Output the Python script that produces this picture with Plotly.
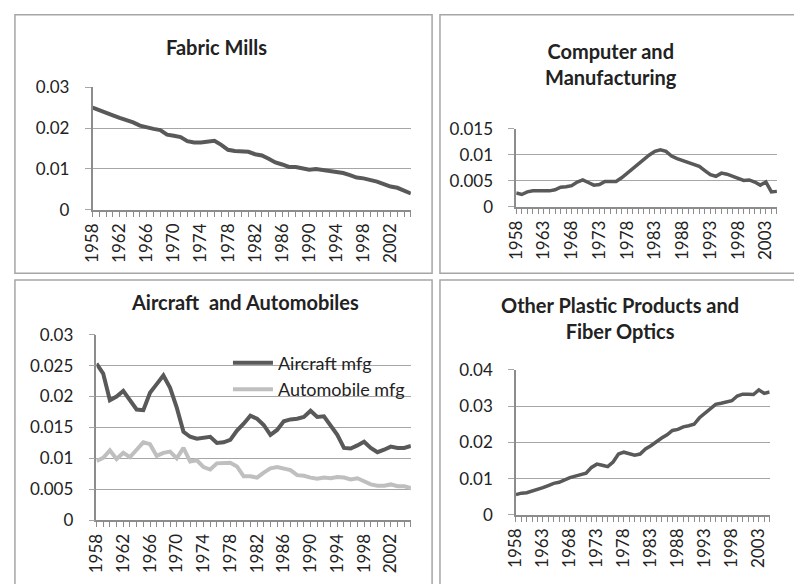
import plotly.graph_objects as go

# years shared by all four panels
years = list(range(1958, 2006))

fabric_mills = [
    0.0250, 0.0243, 0.0236, 0.0231, 0.0225, 0.0220, 0.0214, 0.0206, 0.0201, 0.0198,
    0.0195, 0.0184, 0.0181, 0.0178, 0.0168, 0.0165, 0.0165, 0.0166, 0.0169, 0.0159,
    0.0147, 0.0144, 0.0144, 0.0142, 0.0136, 0.0133, 0.0125, 0.0116, 0.0111, 0.0105,
    0.0105, 0.0102, 0.0098, 0.0100, 0.0098, 0.0096, 0.0093, 0.0090, 0.0085, 0.0079,
    0.0077, 0.0074, 0.0069, 0.0063, 0.0057, 0.0054, 0.0047, 0.0040,
]

computer_mfg = [
    0.0027, 0.0024, 0.0029, 0.0031, 0.0031, 0.0031, 0.0031, 0.0033, 0.0038, 0.0039,
    0.0041, 0.0048, 0.0052, 0.0047, 0.0042, 0.0043, 0.0049, 0.0049, 0.0049, 0.0056,
    0.0065, 0.0074, 0.0081, 0.0090, 0.0100, 0.0107, 0.0110, 0.0107, 0.0098, 0.0093,
    0.0089, 0.0086, 0.0081, 0.0078, 0.0070, 0.0062, 0.0059, 0.0065, 0.0063, 0.0059,
    0.0056, 0.0051, 0.0052, 0.0048, 0.0042, 0.0048, 0.0029, 0.0030,
]

aircraft_mfg = [
    0.0253, 0.0237, 0.0194, 0.0200, 0.0209, 0.0195, 0.0179, 0.0178, 0.0206, 0.0220,
    0.0234, 0.0214, 0.0182, 0.0143, 0.0135, 0.0132, 0.0133, 0.0135, 0.0125, 0.0126,
    0.0130, 0.0145, 0.0156, 0.0169, 0.0164, 0.0154, 0.0138, 0.0146, 0.0160, 0.0163,
    0.0164, 0.0167, 0.0177, 0.0167, 0.0168, 0.0154, 0.0138, 0.0117, 0.0116, 0.0121,
    0.0127, 0.0117, 0.0110, 0.0114, 0.0119, 0.0117, 0.0117, 0.0120,
]

automobile_mfg = [
    0.0096, 0.0101, 0.0113, 0.0099, 0.0109, 0.0102, 0.0114, 0.0126, 0.0123, 0.0104,
    0.0109, 0.0111, 0.0100, 0.0117, 0.0095, 0.0097, 0.0086, 0.0082, 0.0092, 0.0093,
    0.0093, 0.0087, 0.0071, 0.0071, 0.0069, 0.0077, 0.0084, 0.0086, 0.0083, 0.0081,
    0.0073, 0.0072, 0.0069, 0.0067, 0.0069, 0.0068, 0.0070, 0.0069, 0.0066, 0.0068,
    0.0063, 0.0058, 0.0056, 0.0056, 0.0058, 0.0055, 0.0055, 0.0052,
]

plastic_fiber = [
    0.0056, 0.0060, 0.0061, 0.0065, 0.0069, 0.0075, 0.0081, 0.0087, 0.0090, 0.0097,
    0.0103, 0.0107, 0.0111, 0.0115, 0.0131, 0.0140, 0.0137, 0.0133, 0.0146, 0.0168,
    0.0173, 0.0168, 0.0165, 0.0168, 0.0182, 0.0191, 0.0202, 0.0212, 0.0221, 0.0233,
    0.0236, 0.0243, 0.0246, 0.0250, 0.0268, 0.0280, 0.0295, 0.0305, 0.0308, 0.0311,
    0.0315, 0.0328, 0.0333, 0.0333, 0.0332, 0.0345, 0.0335, 0.0339,
]

# tick labels
x_ticks_left = list(range(1958, 2006, 4))
x_ticks_right = list(range(1958, 2006, 5))
y_ticks_fabric = [0, 0.01, 0.02, 0.03]
y_labels_fabric = ["0", "0.01", "0.02", "0.03"]
y_ticks_computer = [0, 0.005, 0.01, 0.015]
y_labels_computer = ["0", "0.005", "0.01", "0.015"]
y_ticks_aircraft = [0, 0.005, 0.01, 0.015, 0.02, 0.025, 0.03]
y_labels_aircraft = ["0", "0.005", "0.01", "0.015", "0.02", "0.025", "0.03"]
y_ticks_plastic = [0, 0.01, 0.02, 0.03, 0.04]
y_labels_plastic = ["0", "0.01", "0.02", "0.03", "0.04"]

W, H = 794, 584
FONT = "Lato"
DARK = "#595959"
LIGHT = "#bfbfbf"
AXIS = "#8c8c8c"
GRID = "#a6a6a6"


def px_x(p):
    return p / W


def px_y(p):
    return 1 - p / H


fig = go.Figure()

fig.add_trace(go.Scatter(x=years, y=fabric_mills, mode="lines", xaxis="x", yaxis="y",
                         line=dict(color=DARK, width=4), showlegend=False))
fig.add_trace(go.Scatter(x=years, y=computer_mfg, mode="lines", xaxis="x2", yaxis="y2",
                         line=dict(color=DARK, width=3.5), showlegend=False))
fig.add_trace(go.Scatter(x=years, y=aircraft_mfg, mode="lines", xaxis="x3", yaxis="y3",
                         name="Aircraft mfg", line=dict(color=DARK, width=4)))
fig.add_trace(go.Scatter(x=years, y=automobile_mfg, mode="lines", xaxis="x3", yaxis="y3",
                         name="Automobile mfg", line=dict(color=LIGHT, width=4)))
fig.add_trace(go.Scatter(x=years, y=plastic_fiber, mode="lines", xaxis="x4", yaxis="y4",
                         line=dict(color=DARK, width=3.5), showlegend=False))


def xaxis(domain, anchor, tickvals):
    return dict(
        domain=domain, anchor=anchor, range=[1958, 2005],
        tickvals=tickvals, ticktext=[str(v) for v in tickvals],
        tickangle=-90, ticks="outside", ticklen=5, tickcolor=AXIS,
        minor=dict(dtick=1, tick0=1958, ticks="outside", ticklen=5, tickcolor=AXIS),
        showline=True, linecolor=AXIS, linewidth=1.5, showgrid=False, zeroline=False,
        tickfont=dict(family=FONT, size=17, color="#222"),
    )


def yaxis(domain, anchor, rng, tickvals, ticktext):
    return dict(
        domain=domain, anchor=anchor, range=rng,
        tickvals=tickvals, ticktext=ticktext,
        ticks="outside", ticklen=6, tickcolor=GRID,
        showline=True, linecolor=AXIS, linewidth=1.5,
        showgrid=True, gridcolor=GRID, gridwidth=1, zeroline=False,
        ticklabelstandoff=12,
        tickfont=dict(family=FONT, size=17, color="#222"),
    )


fig.update_layout(
    width=W, height=H, margin=dict(l=0, r=0, t=0, b=0),
    paper_bgcolor="white", plot_bgcolor="white",
    font=dict(family=FONT, color="#222"),
    xaxis=xaxis([px_x(82.7), px_x(405.5)], "y", x_ticks_left),
    yaxis=yaxis([px_y(206.3), px_y(79)], "x", [0, 0.03], y_ticks_fabric, y_labels_fabric),
    xaxis2=xaxis([px_x(512.3), px_x(776.7)], "y2", x_ticks_right),
    yaxis2=yaxis([px_y(203.3), px_y(122.3)], "x2", [0, 0.015], y_ticks_computer, y_labels_computer),
    xaxis3=xaxis([px_x(86.7), px_x(405.5)], "y3", x_ticks_left),
    yaxis3=yaxis([px_y(528.3), px_y(335.7)], "x3", [0, 0.03], y_ticks_aircraft, y_labels_aircraft),
    xaxis4=xaxis([px_x(512), px_x(769.3)], "y4", x_ticks_right),
    yaxis4=yaxis([px_y(522.7), px_y(372.3)], "x4", [0, 0.04], y_ticks_plastic, y_labels_plastic),
    legend=dict(x=px_x(220), y=px_y(346), xanchor="left", yanchor="top",
                bgcolor="rgba(0,0,0,0)", itemwidth=40, tracegroupgap=0,
                font=dict(family=FONT, size=18, color="#222")),
)

# panel titles
titles = [
    ("Fabric Mills", 208, 37),
    ("Computer and<br>Manufacturing", 608, 55),
    ("Aircraft\u00a0 and Automobiles", 237, 302),
    ("Other Plastic Products and<br>Fiber Optics", 618, 318.5),
]
for text, cx, cy in titles:
    fig.add_annotation(text="<b>%s</b>" % text, xref="paper", yref="paper",
                       x=px_x(cx), y=px_y(cy), showarrow=False,
                       xanchor="center", yanchor="middle",
                       font=dict(family=FONT, size=20, color="#222"))

# panel frames
frames = [(4, 4, 427, 272), (435, 4, 820, 272), (4, 279, 427, 620), (435, 279, 820, 620)]
for x0, y0, x1, y1 in frames:
    fig.add_shape(type="rect", xref="paper", yref="paper",
                  x0=px_x(x0), x1=px_x(x1), y0=px_y(y1), y1=px_y(y0),
                  line=dict(color="#a6a6a6", width=1.5), fillcolor="rgba(0,0,0,0)")

fig.write_html("out.html", config={"displayModeBar": False},
               post_script="document.body.style.margin='0';")
